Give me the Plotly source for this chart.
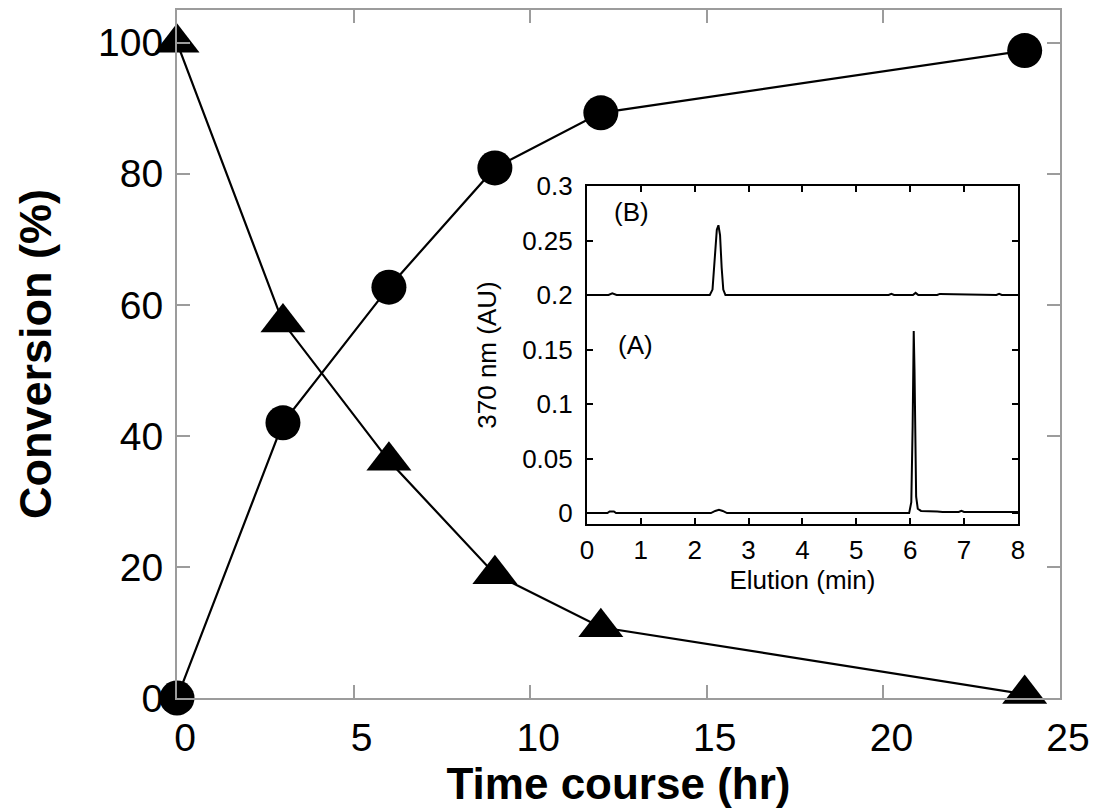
import plotly.graph_objects as go

# Time course of the conversion (hr, %)
time_hr = [0, 3, 6, 9, 12, 24]
product_pct = [0, 42.0, 62.7, 80.9, 89.3, 98.8]      # filled circles
substrate_pct = [100, 57.3, 36.2, 18.9, 10.8, 0.6]   # filled triangles

# HPLC traces at 370 nm, read point by point (min, AU)
trace_a_min = [0, 0.38, 0.42, 0.46, 0.5, 0.54, 2.3, 2.38, 2.45, 2.52, 2.6,
               5.98, 6.02, 6.045, 6.065, 6.08, 6.095, 6.11, 6.14, 6.2,
               6.5, 6.6, 6.9, 6.95, 7.0, 8.0]
trace_a_au = [0, 0, 0.0015, 0.0012, 0.0015, 0, 0, 0.002, 0.003, 0.002, 0,
              0, 0.01, 0.08, 0.167, 0.13, 0.05, 0.015, 0.004, 0.002,
              0.0015, 0.001, 0.001, 0.002, 0.001, 0.001]
trace_b_min = [0, 0.4, 0.47, 0.55, 1.2, 2.28, 2.33, 2.37, 2.41, 2.44, 2.47,
               2.5, 2.53, 2.57, 5.6, 5.65, 5.7, 6.05, 6.1, 6.15, 6.5, 6.55,
               7.6, 7.65, 7.7, 8.0]
trace_b_au = [0.2, 0.2, 0.2015, 0.2, 0.2, 0.2, 0.205, 0.23, 0.26, 0.264, 0.255,
              0.225, 0.205, 0.2, 0.2, 0.201, 0.2, 0.2, 0.202, 0.2, 0.2, 0.201,
              0.2, 0.201, 0.2, 0.2]

x_ticks = [0, 5, 10, 15, 20, 25]
y_ticks = [0, 20, 40, 60, 80, 100]
inset_x_ticks = [0, 1, 2, 3, 4, 5, 6, 7, 8]
inset_y_ticks = [0, 0.05, 0.1, 0.15, 0.2, 0.25, 0.3]

FONT = "Liberation Sans, Arial, sans-serif"
GREY = "#9c9c9c"

fig = go.Figure()

fig.add_trace(go.Scatter(
    x=time_hr, y=product_pct, mode="lines+markers",
    line=dict(color="black", width=2.2),
    marker=dict(symbol="circle", size=35, color="black"),
    cliponaxis=False, xaxis="x", yaxis="y", showlegend=False))
fig.add_trace(go.Scatter(
    x=time_hr, y=substrate_pct, mode="lines+markers",
    line=dict(color="black", width=2.2),
    marker=dict(symbol="triangle-up", size=39, color="black"),
    cliponaxis=False, xaxis="x", yaxis="y", showlegend=False))

fig.add_trace(go.Scatter(
    x=trace_a_min, y=trace_a_au, mode="lines",
    line=dict(color="black", width=2),
    xaxis="x2", yaxis="y2", showlegend=False))
fig.add_trace(go.Scatter(
    x=trace_b_min, y=trace_b_au, mode="lines",
    line=dict(color="black", width=2),
    xaxis="x2", yaxis="y2", showlegend=False))

main_axis = dict(
    showgrid=False, zeroline=False, showline=True, linecolor=GREY,
    linewidth=2, mirror="ticks", ticks="inside", ticklen=13, automargin=False,
    tickwidth=2, tickcolor=GREY, tickfont=dict(family=FONT, size=39, color="black"))

inset_axis = dict(
    showgrid=False, zeroline=False, showline=True, linecolor="black",
    linewidth=2, mirror="ticks", ticks="inside", ticklen=6, automargin=False,
    tickwidth=2, tickcolor="black", tickfont=dict(family=FONT, size=26, color="black"))

fig.update_layout(
    width=1102, height=812,
    margin=dict(l=177, r=42, t=10, b=114, autoexpand=False),
    paper_bgcolor="white", plot_bgcolor="white",
    xaxis=dict(main_axis, domain=[0, 1], range=[0, 25], tickvals=x_ticks,
               anchor="y", ticklabelstandoff=4, ticklabelshift=8,
               title=dict(text="<b>Time course (hr)</b>", standoff=0,
                          font=dict(family=FONT, size=44, color="black"))),
    yaxis=dict(main_axis, domain=[0, 1], range=[0, 105], tickvals=y_ticks,
               anchor="x", ticklabelstandoff=4,
               title=dict(text="<b>Conversion (%)</b>", standoff=32,
                          font=dict(family=FONT, size=45, color="black"))),
    xaxis2=dict(inset_axis, domain=[0.4643, 0.9524], range=[0, 8],
                tickvals=inset_x_ticks, anchor="y2", ticklabelstandoff=2,
                title=dict(text="Elution (min)", standoff=2,
                           font=dict(family=FONT, size=26, color="black"))),
    yaxis2=dict(inset_axis, domain=[0.2529, 0.7442], range=[-0.01, 0.3],
                tickvals=inset_y_ticks, anchor="x2", ticklabelstandoff=7,
                title=dict(text="370 nm (AU)", standoff=18,
                           font=dict(family=FONT, size=26, color="black"))),
    annotations=[
        dict(text="(B)", x=0.83, y=0.276, xref="x2", yref="y2", showarrow=False,
             font=dict(family=FONT, size=26, color="black")),
        dict(text="(A)", x=0.9, y=0.154, xref="x2", yref="y2", showarrow=False,
             font=dict(family=FONT, size=26, color="black")),
    ],
)

fig.write_html("out.html")
